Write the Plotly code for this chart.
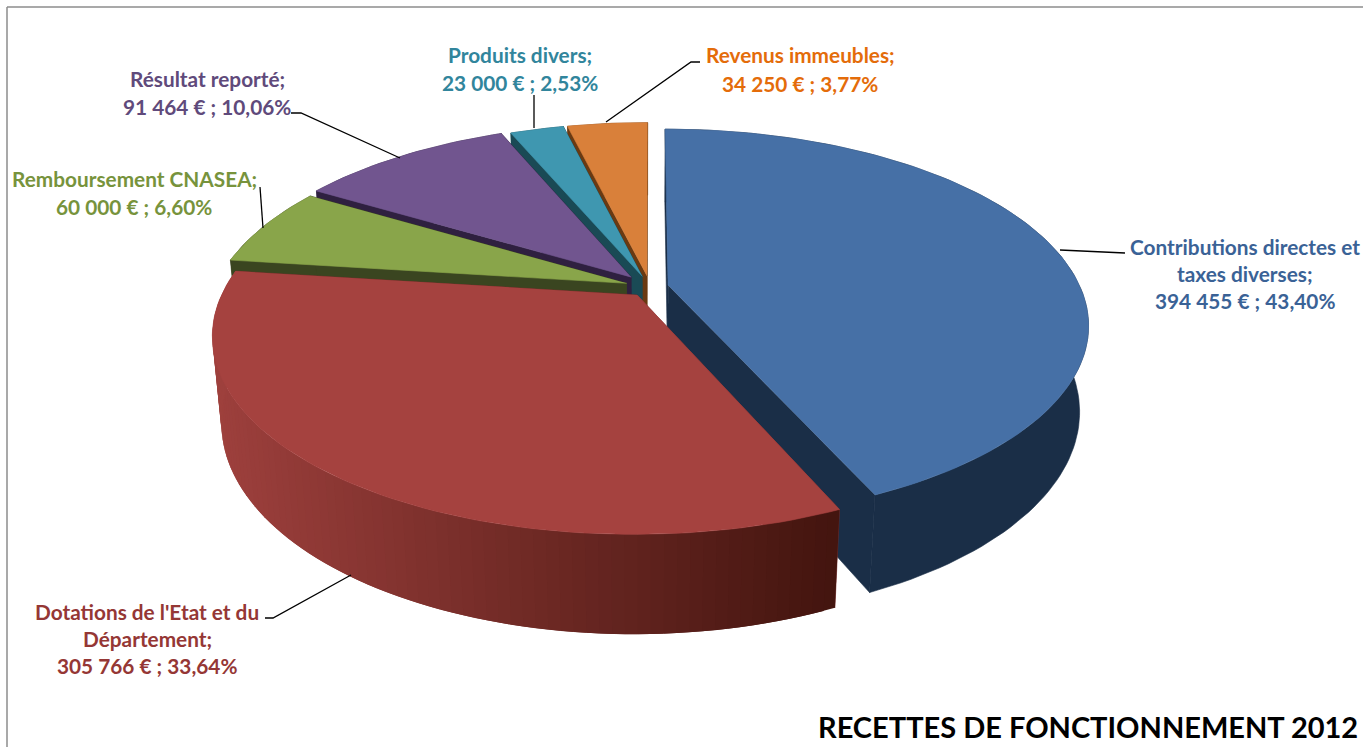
import numpy as np
import plotly.graph_objects as go

# ---- data ----
categories = ["Contributions directes et taxes diverses", "Dotations de l'Etat et du Département",
              "Remboursement CNASEA", "Résultat reporté", "Produits divers", "Revenus immeubles"]
values = [394455, 305766, 60000, 91464, 23000, 34250]
label_lines = [
    ["Contributions directes et", "taxes diverses;", "394 455 € ; 43,40%"],
    ["Dotations de l'Etat et du", "Département;", "305 766 € ; 33,64%"],
    ["Remboursement CNASEA;", "60 000 € ; 6,60%"],
    ["Résultat reporté;", "91 464 € ; 10,06%"],
    ["Produits divers;", "23 000 € ; 2,53%"],
    ["Revenus immeubles;", "34 250 € ; 3,77%"],
]
title_text = "RECETTES DE FONCTIONNEMENT 2012"

# ---- styling ----
top_colors = ["#4670A6", "#A5423F", "#89A54A", "#71558F", "#3F97B0", "#D9803A"]
wall_colors = ["#1A2E47", "#7A2F2D", "#3A4520", "#2F2040", "#1A4A55", "#6A3A12"]
text_colors = ["#3A6296", "#953735", "#77933C", "#604A7B", "#31859C", "#E46C0A"]
explode = [0.045, 0.052, 0.06, 0.07, 0.06, 0.06]
label_pos = [(1245, [246, 273, 300]), (147, [611, 638, 665]), (134, [178, 206]),
             (207, [78, 106]), (520, [54, 82]), (800, [54, 83])]
leaders = [[(1060, 250), (1125, 253)], [(265, 618), (273, 618), (351, 575)],
           [(260, 187), (263, 228)], [(291, 113), (301, 113), (400, 158)],
           [(534, 95), (534, 128)], [(700, 62), (691, 62), (606, 122)]]
FONT = "Lato"

# perspective projection of the pie onto the page
CX, CY, SX, SY, SZ, K, M = 650, 287, 412, 188, 86, 0.2, 0.02


def project(u, v, z):
    w = 1 + K * v + M * z
    return CX + SX * u / w, CY + (-SY * v + SZ * z) / w


def poly(x, y, color, width=0.6):
    return go.Scatter(x=list(x), y=list(y), mode="lines", fill="toself", fillcolor=color,
                      line=dict(color=color, width=width), hoverinfo="skip", showlegend=False)


def mix(c1, c2, t):
    a = [int(c1[i:i + 2], 16) for i in (1, 3, 5)]
    b = [int(c2[i:i + 2], 16) for i in (1, 3, 5)]
    return "#" + "".join(f"{round(p + (q - p) * t):02X}" for p, q in zip(a, b))


total = sum(values)
edges = np.concatenate([[0], np.cumsum(values)]) / total * 2 * np.pi
fig = go.Figure()
draw_order = [0, 5, 4, 3, 2, 1]

for i in draw_order:
    a0, a1 = edges[i], edges[i + 1]
    mid = (a0 + a1) / 2
    ou, ov = explode[i] * np.sin(mid), explode[i] * np.cos(mid)
    ang = np.linspace(a0, a1, max(12, int((a1 - a0) * 40)))
    ru, rv = ou + np.sin(ang), ov + np.cos(ang)
    # radial faces
    for a in (a0, a1):
        eu, ev = ou + np.sin(a), ov + np.cos(a)
        p = [project(ou, ov, 0), project(eu, ev, 0), project(eu, ev, 1), project(ou, ov, 1)]
        fig.add_trace(poly([q[0] for q in p], [q[1] for q in p], wall_colors[i]))
    # outer wall
    xt, yt = project(ru, rv, 0)
    xb, yb = project(ru, rv, 1)
    if i == 1:
        # the red wall is painted strip by strip, each strip overlapping the next
        for j in range(len(ang) - 1):
            j2 = min(j + 2, len(ang) - 1)
            t = np.clip((xt[j] - 212) / (835 - 212), 0, 1)
            col = mix("#9E403D", "#44150F", t)
            idx = list(range(j, j2 + 1))
            fig.add_trace(poly(list(xt[idx]) + list(xb[idx][::-1]),
                               list(yt[idx]) + list(yb[idx][::-1]), col, width=0))
    else:
        fig.add_trace(poly(list(xt) + list(xb[::-1]), list(yt) + list(yb[::-1]), wall_colors[i]))
    # top
    ax, ay = project(ou, ov, 0)
    fig.add_trace(poly([ax] + list(xt), [ay] + list(yt), top_colors[i]))

shapes = [
    dict(type="line", x0=7, x1=7, y0=7, y1=747, line=dict(color="#8C8C8C", width=1.5)),
    dict(type="line", x0=7, x1=1363, y0=7, y1=7, line=dict(color="#8C8C8C", width=1.5)),
]
for pts in leaders:
    path = "M " + " L ".join(f"{x} {y}" for x, y in pts)
    shapes.append(dict(type="path", path=path, line=dict(color="#000000", width=1.3)))

annotations = []
for (cx, ys), lines, col in zip(label_pos, label_lines, text_colors):
    for y, txt in zip(ys, lines):
        annotations.append(dict(x=cx, y=y, text=f"<b>{txt}</b>", showarrow=False, xanchor="center",
                                yanchor="middle", font=dict(family=FONT, size=20.8, color=col)))
annotations.append(dict(x=1360, y=726, text=f"<b>{title_text}</b>", showarrow=False, xanchor="right",
                        yanchor="middle", font=dict(family=FONT, size=29, color="#000000")))

fig.update_layout(
    width=1363, height=747, margin=dict(l=0, r=0, t=0, b=0), autosize=False,
    paper_bgcolor="white", plot_bgcolor="white", showlegend=False,
    xaxis=dict(range=[0, 1363], visible=False, fixedrange=True),
    yaxis=dict(range=[747, 0], visible=False, fixedrange=True),
    shapes=shapes, annotations=annotations,
)
fig.write_html("out.html", config={"displayModeBar": False},
               post_script="document.body.style.margin='0';document.body.style.overflow='hidden';")
